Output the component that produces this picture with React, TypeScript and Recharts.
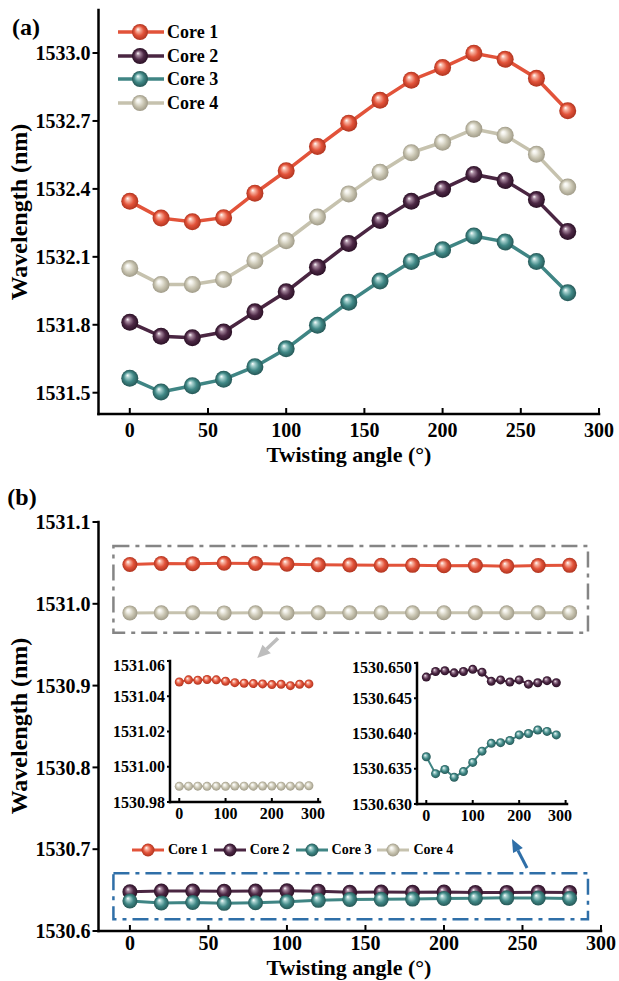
import React from 'react';
import { LineChart, Line, XAxis, YAxis, Legend, ReferenceArea, ReferenceLine } from 'recharts';

// ---------- data ----------
const angles = [0, 20, 40, 60, 80, 100, 120, 140, 160, 180, 200, 220, 240, 260, 280];
const coreNames = ['Core 1', 'Core 2', 'Core 3', 'Core 4'];

// panel (a)
const core1A = [1532.345, 1532.271, 1532.255, 1532.273, 1532.381, 1532.48, 1532.587, 1532.69, 1532.791, 1532.88, 1532.936, 1532.999, 1532.973, 1532.889, 1532.745];
const core2A = [1531.811, 1531.749, 1531.743, 1531.768, 1531.857, 1531.946, 1532.054, 1532.159, 1532.26, 1532.345, 1532.4, 1532.464, 1532.437, 1532.353, 1532.212];
const core3A = [1531.564, 1531.503, 1531.531, 1531.559, 1531.615, 1531.694, 1531.798, 1531.9, 1531.993, 1532.079, 1532.131, 1532.192, 1532.166, 1532.079, 1531.941];
const core4A = [1532.048, 1531.978, 1531.978, 1532.0, 1532.083, 1532.171, 1532.276, 1532.378, 1532.474, 1532.56, 1532.606, 1532.664, 1532.637, 1532.553, 1532.408];

// panel (b)
const core1B = [1531.0481, 1531.0493, 1531.0491, 1531.0495, 1531.0493, 1531.0485, 1531.0477, 1531.0474, 1531.0472, 1531.047, 1531.0466, 1531.0468, 1531.046, 1531.0468, 1531.047];
const core2B = [1530.648, 1530.6488, 1530.6489, 1530.6486, 1530.6488, 1530.6491, 1530.6487, 1530.6474, 1530.6476, 1530.6473, 1530.6476, 1530.647, 1530.6472, 1530.6475, 1530.6472];
const core3B = [1530.6367, 1530.6343, 1530.6349, 1530.6338, 1530.6346, 1530.6359, 1530.6375, 1530.6386, 1530.6387, 1530.639, 1530.6398, 1530.64, 1530.6405, 1530.6403, 1530.6398];
const core4B = [1530.9889, 1530.989, 1530.989, 1530.9889, 1530.989, 1530.9889, 1530.9891, 1530.989, 1530.989, 1530.9891, 1530.9891, 1530.989, 1530.989, 1530.9891, 1530.9892];

// ticks
const xTicksMain = [0, 50, 100, 150, 200, 250, 300];
const yTicksA = [1531.5, 1531.8, 1532.1, 1532.4, 1532.7, 1533.0];
const yTicksB = [1530.6, 1530.7, 1530.8, 1530.9, 1531.0, 1531.1];
const xTicksInset = [0, 100, 200, 300];
const yTicksInsetL = [1530.98, 1531.0, 1531.02, 1531.04, 1531.06];
const yTicksInsetR = [1530.63, 1530.635, 1530.64, 1530.645, 1530.65];

// annotation boxes / arrows (data units of panel b)
const grayBox = { x1: -10.5, x2: 291.7, y1: 1530.9647, y2: 1531.0707 };
const blueBox = { x1: -10.5, x2: 291.7, y1: 1530.6143, y2: 1530.6705 };
const grayArrow = [{ x: 94.3, y: 1530.958 }, { x: 81.1, y: 1530.9337 }];
const blueArrow = [{ x: 252.9, y: 1530.677 }, { x: 243.3, y: 1530.7125 }];

const dataA = angles.map((a, i) => ({ angle: a, c1: core1A[i], c2: core2A[i], c3: core3A[i], c4: core4A[i] }));
const dataB = angles.map((a, i) => ({ angle: a, c1: core1B[i], c2: core2B[i], c3: core3B[i], c4: core4B[i] }));

// ---------- styles ----------
const FONT = "'Liberation Serif', 'Times New Roman', serif";
const lineColors = ['#E2533A', '#4A2642', '#3F8584', '#C6C2AE'];
const gradStops = [
  { light: '#F8B4A2', base: '#E2533A', dark: '#B0341F' },
  { light: '#A88AA0', base: '#4E2946', dark: '#2A1025' },
  { light: '#A6D0CE', base: '#408886', dark: '#255756' },
  { light: '#F2F1EA', base: '#CAC6B3', dark: '#A09B88' },
];
const keys = ['c1', 'c2', 'c3', 'c4'];

const Defs = () => (
  <svg width={0} height={0} style={{ position: 'absolute' }}>
    <defs>
      {gradStops.map((g, i) => (
        <radialGradient key={i} id={`g${i}`} cx="50%" cy="50%" r="50%" fx="36%" fy="32%">
          <stop offset="0%" stopColor="#ffffff" />
          <stop offset="22%" stopColor={g.light} />
          <stop offset="60%" stopColor={g.base} />
          <stop offset="100%" stopColor={g.dark} />
        </radialGradient>
      ))}
    </defs>
  </svg>
);

const makeDot = (i: number, r: number) => (props: any) => {
  const { cx, cy, index } = props;
  if (cx == null || cy == null) return <g key={`e${i}-${index}`} />;
  return <circle key={`d${i}-${index}`} cx={cx} cy={cy} r={r} fill={`url(#g${i})`} />;
};

const tickStyle = (size: number) => ({ fontFamily: FONT, fontWeight: 700, fontSize: size, fill: '#000' });
const frameLine = { stroke: '#000', strokeWidth: 2.5, strokeLinecap: 'square' as const };

const TopLegend = () => (
  <div>
    {coreNames.map((n, i) => (
      <div key={n} style={{ display: 'flex', alignItems: 'center', height: 23.7 }}>
        <svg width={48} height={20}>
          <line x1={1} y1={10} x2={47} y2={10} stroke={lineColors[i]} strokeWidth={3.5} />
          <circle cx={23} cy={10} r={8} fill={`url(#g${i})`} />
        </svg>
        <span style={{ fontFamily: FONT, fontWeight: 700, fontSize: 18, marginLeft: 2, lineHeight: 1 }}>{n}</span>
      </div>
    ))}
  </div>
);

const BottomLegend = () => (
  <div style={{ display: 'flex', alignItems: 'center' }}>
    {coreNames.map((n, i) => (
      <div key={n} style={{ display: 'flex', alignItems: 'center', marginRight: 5 }}>
        <svg width={34} height={16}>
          <line x1={1} y1={8} x2={33} y2={8} stroke={lineColors[i]} strokeWidth={3} />
          <circle cx={17} cy={8} r={6.5} fill={`url(#g${i})`} />
        </svg>
        <span style={{ fontFamily: FONT, fontWeight: 700, fontSize: 14, marginLeft: 3, lineHeight: 1 }}>{n}</span>
      </div>
    ))}
  </div>
);

const arrowShape = (color: string, w: number, headL: number, headW: number) => (props: any) => {
  const { x1, y1, x2, y2 } = props;
  if ([x1, y1, x2, y2].some((v) => v == null || isNaN(v))) return <g />;
  const dx = x2 - x1;
  const dy = y2 - y1;
  const len = Math.sqrt(dx * dx + dy * dy) || 1;
  const ux = dx / len;
  const uy = dy / len;
  const bx = x2 - ux * headL;
  const by = y2 - uy * headL;
  const px = -uy * headW / 2;
  const py = ux * headW / 2;
  return (
    <g>
      <line x1={x1} y1={y1} x2={bx} y2={by} stroke={color} strokeWidth={w} />
      <polygon points={`${x2},${y2} ${bx + px},${by + py} ${bx - px},${by - py}`} fill={color} />
    </g>
  );
};

const Title = ({ x, y, text, rotate, size }: { x: number; y: number; text: string; rotate?: boolean; size: number }) => (
  <div
    style={{
      position: 'absolute',
      left: x,
      top: y,
      transform: `translate(-50%, -50%)${rotate ? ' rotate(-90deg)' : ''}`,
      whiteSpace: 'nowrap',
      fontFamily: FONT,
      fontWeight: 700,
      fontSize: size,
      lineHeight: 1,
      color: '#000',
    }}
  >
    {text}
  </div>
);

export default function App() {
  return (
    <div style={{ position: 'absolute', left: 0, top: 0, width: 619, height: 981, background: '#fff' }}>
      <Defs />
      {/* ---------------- panel (a) ---------------- */}
      <div style={{ position: 'absolute', left: 0, top: 0 }}>
        <LineChart width={619} height={470} data={dataA} margin={{ top: 10, right: 20, left: 0, bottom: 0 }}>
          <XAxis
            dataKey="angle"
            type="number"
            domain={[-20, 300]}
            ticks={xTicksMain}
            allowDataOverflow
            height={56}
            tickSize={-6}
            tickMargin={15}
            tickLine={{ stroke: '#000', strokeWidth: 2 }}
            axisLine={frameLine}
            tick={tickStyle(20)}
          />
          <XAxis xAxisId="top" orientation="top" type="number" domain={[-20, 300]} height={0} tick={false} tickLine={false} axisLine={frameLine} />
          <YAxis
            type="number"
            domain={[1531.406, 1533.19]}
            ticks={yTicksA}
            allowDataOverflow
            width={98.5}
            tickSize={6}
            tickMargin={2}
            tickFormatter={(v: number) => v.toFixed(1)}
            tickLine={{ stroke: '#000', strokeWidth: 2 }}
            axisLine={frameLine}
            tick={tickStyle(20)}
          />
          <YAxis yAxisId="right" orientation="right" type="number" domain={[1531.406, 1533.19]} width={0} tick={false} tickLine={false} axisLine={frameLine} />
          {keys.map((k, i) => (
            <Line
              key={k}
              dataKey={k}
              name={coreNames[i]}
              stroke={lineColors[i]}
              strokeWidth={3.5}
              dot={makeDot(i, 8.5)}
              activeDot={false}
              isAnimationActive={false}
            />
          ))}
          <Legend
            layout="horizontal"
            verticalAlign="middle"
            align="center"
            content={() => <TopLegend />}
            wrapperStyle={{ position: 'absolute', left: 117, top: 20, width: 'auto' }}
          />
        </LineChart>
      </div>

      {/* ---------------- panel (b) ---------------- */}
      <div style={{ position: 'absolute', left: 0, top: 480 }}>
        <LineChart width={619} height={501} data={dataB} margin={{ top: 42, right: 18, left: 0, bottom: 0 }}>
          <XAxis
            dataKey="angle"
            type="number"
            domain={[-20, 300]}
            ticks={xTicksMain}
            allowDataOverflow
            height={50}
            tickSize={-6}
            tickMargin={11}
            tickLine={{ stroke: '#000', strokeWidth: 2 }}
            axisLine={frameLine}
            tick={tickStyle(20)}
          />
          <XAxis xAxisId="top" orientation="top" type="number" domain={[-20, 300]} height={0} tick={false} tickLine={false} axisLine={frameLine} />
          <YAxis
            type="number"
            domain={[1530.6, 1531.1]}
            ticks={yTicksB}
            allowDataOverflow
            width={98.5}
            tickSize={6}
            tickMargin={2}
            tickFormatter={(v: number) => v.toFixed(1)}
            tickLine={{ stroke: '#000', strokeWidth: 2 }}
            axisLine={frameLine}
            tick={tickStyle(20)}
          />
          <YAxis yAxisId="right" orientation="right" type="number" domain={[1530.6, 1531.1]} width={0} tick={false} tickLine={false} axisLine={frameLine} />
          <ReferenceArea {...grayBox} fill="none" stroke="#858585" strokeWidth={2.5} strokeDasharray="16 6 4 6" ifOverflow="visible" />
          <ReferenceArea {...blueBox} fill="none" stroke="#2F6FA8" strokeWidth={2.5} strokeDasharray="16 6 4 6" ifOverflow="visible" />
          <ReferenceLine segment={grayArrow} ifOverflow="visible" shape={arrowShape('#BDBDBD', 3.5, 13, 12)} />
          <ReferenceLine segment={blueArrow} ifOverflow="visible" shape={arrowShape('#2F6FA8', 3, 13, 11)} />
          {keys.map((k, i) => (
            <Line
              key={k}
              dataKey={k}
              name={coreNames[i]}
              stroke={lineColors[i]}
              strokeWidth={3}
              dot={makeDot(i, 7.5)}
              activeDot={false}
              isAnimationActive={false}
            />
          ))}
          <Legend
            layout="horizontal"
            verticalAlign="middle"
            align="center"
            content={() => <BottomLegend />}
            wrapperStyle={{ position: 'absolute', left: 131, top: 362, width: 'auto' }}
          />
        </LineChart>
      </div>

      {/* inset left: Core 1 & Core 4 */}
      <div style={{ position: 'absolute', left: 100, top: 656 }}>
        <LineChart width={225} height={176} data={dataB} margin={{ top: 5, right: 5, left: 0, bottom: 0 }}>
          <XAxis
            dataKey="angle"
            type="number"
            domain={[-20, 304]}
            ticks={xTicksInset}
            allowDataOverflow
            height={30}
            tickSize={-4}
            tickMargin={10}
            tickLine={{ stroke: '#000', strokeWidth: 2 }}
            axisLine={frameLine}
            tick={tickStyle(16)}
          />
          <XAxis xAxisId="top" orientation="top" type="number" domain={[-20, 304]} height={0} tick={false} tickLine={false} axisLine={frameLine} />
          <YAxis
            type="number"
            domain={[1530.98, 1531.06]}
            ticks={yTicksInsetL}
            allowDataOverflow
            width={70}
            tickSize={3}
            tickMargin={2}
            tickFormatter={(v: number) => v.toFixed(2)}
            tickLine={{ stroke: '#000', strokeWidth: 2 }}
            axisLine={frameLine}
            tick={tickStyle(16)}
          />
          <YAxis yAxisId="right" orientation="right" type="number" domain={[1530.98, 1531.06]} width={0} tick={false} tickLine={false} axisLine={frameLine} />
          {[0, 3].map((i) => (
            <Line key={keys[i]} dataKey={keys[i]} stroke={lineColors[i]} strokeWidth={2} dot={makeDot(i, 4.5)} activeDot={false} isAnimationActive={false} />
          ))}
        </LineChart>
      </div>

      {/* inset right: Core 2 & Core 3 */}
      <div style={{ position: 'absolute', left: 337, top: 658 }}>
        <LineChart width={235} height={176} data={dataB} margin={{ top: 5, right: 5, left: 0, bottom: 0 }}>
          <XAxis
            dataKey="angle"
            type="number"
            domain={[-20, 303]}
            ticks={xTicksInset}
            allowDataOverflow
            height={30}
            tickSize={-4}
            tickMargin={10}
            tickLine={{ stroke: '#000', strokeWidth: 2 }}
            axisLine={frameLine}
            tick={tickStyle(16)}
          />
          <XAxis xAxisId="top" orientation="top" type="number" domain={[-20, 303]} height={0} tick={false} tickLine={false} axisLine={frameLine} />
          <YAxis
            type="number"
            domain={[1530.63, 1530.65]}
            ticks={yTicksInsetR}
            allowDataOverflow
            width={80}
            tickSize={3}
            tickMargin={2}
            tickFormatter={(v: number) => v.toFixed(3)}
            tickLine={{ stroke: '#000', strokeWidth: 2 }}
            axisLine={frameLine}
            tick={tickStyle(16)}
          />
          <YAxis yAxisId="right" orientation="right" type="number" domain={[1530.63, 1530.65]} width={0} tick={false} tickLine={false} axisLine={frameLine} />
          {[1, 2].map((i) => (
            <Line key={keys[i]} dataKey={keys[i]} stroke={lineColors[i]} strokeWidth={2} dot={makeDot(i, 4.5)} activeDot={false} isAnimationActive={false} />
          ))}
        </LineChart>
      </div>

      {/* titles */}
      <Title x={26} y={27} text="(a)" size={24} />
      <Title x={22} y={497} text="(b)" size={24} />
      <Title x={349} y={455} text="Twisting angle (°)" size={22} />
      <Title x={349} y={968} text="Twisting angle (°)" size={22} />
      <Title x={19} y={212} text="Wavelength (nm)" rotate size={24} />
      <Title x={19} y={726} text="Wavelength (nm)" rotate size={24} />
    </div>
  );
}
